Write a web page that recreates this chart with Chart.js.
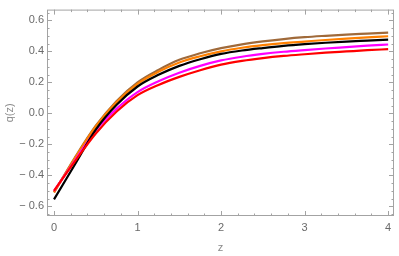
<!DOCTYPE html>
<html lang="en">
<head>
    <meta charset="UTF-8">
    <title>q(z)</title>
    <script src="https://cdn.jsdelivr.net/npm/chart.js"></script>
    <style>
        html, body { margin: 0; padding: 0; background: #fff; }
        #wrap { width: 399px; height: 256px; }
    </style>
</head>
<body>
    <div id="wrap"><canvas id="qChart" width="399" height="256"></canvas></div>

    <script>
        // values
        const zValues  = [0, 0.25, 0.5, 0.75, 1, 1.25, 1.5, 1.75, 2, 2.25, 2.5, 2.75, 3, 3.25, 3.5, 3.75, 4];
        const qBrown   = [-0.51, -0.285, -0.08, 0.08, 0.20, 0.28, 0.345, 0.387, 0.42, 0.445, 0.464, 0.479, 0.491, 0.50, 0.508, 0.514, 0.52];
        const qOrange  = [-0.51, -0.29, -0.085, 0.072, 0.19, 0.268, 0.328, 0.368, 0.40, 0.423, 0.44, 0.453, 0.463, 0.473, 0.482, 0.49, 0.497];
        const qBlack   = [-0.555, -0.33, -0.105, 0.055, 0.173, 0.248, 0.306, 0.349, 0.383, 0.405, 0.421, 0.435, 0.446, 0.455, 0.463, 0.469, 0.475];
        const qMagenta = [-0.5, -0.305, -0.11, 0.03, 0.137, 0.207, 0.262, 0.306, 0.341, 0.365, 0.383, 0.397, 0.408, 0.418, 0.427, 0.436, 0.444];
        const qRed     = [-0.5, -0.31, -0.13, 0.012, 0.117, 0.183, 0.235, 0.278, 0.314, 0.338, 0.356, 0.37, 0.381, 0.391, 0.399, 0.407, 0.414];

        const xTicks = [0, 1, 2, 3, 4];
        const yTicks = [-0.6, -0.4, -0.2, 0.0, 0.2, 0.4, 0.6];

        const toPoints = arr => arr.map((q, i) => ({ x: zValues[i], y: q }));

        function line(values, color) {
            return {
                data: toPoints(values),
                borderColor: color,
                borderWidth: 2.2,
                pointRadius: 0,
                fill: false,
                cubicInterpolationMode: 'monotone'
            };
        }

        const frameColor = '#a3a3a3';
        const labelColor = '#6a6a6a';

        // mathematica-style frame with inward ticks on all four sides
        const framePlugin = {
            id: 'frame',
            afterDatasetsDraw(chart) {
                const { ctx, chartArea: a, scales } = chart;
                const xs = scales.x, ys = scales.y;
                ctx.save();
                ctx.strokeStyle = frameColor;
                ctx.lineWidth = 1;
                ctx.strokeRect(a.left + 0.5, a.top + 0.5, a.right - a.left - 1, a.bottom - a.top - 1);

                for (let i = 0; i <= 20; i++) {
                    const v = i * 0.2;
                    const len = (i % 5 === 0) ? 5 : 2.5;
                    const px = Math.round(xs.getPixelForValue(v)) + 0.5;
                    ctx.beginPath();
                    ctx.moveTo(px, a.bottom); ctx.lineTo(px, a.bottom - len);
                    ctx.moveTo(px, a.top); ctx.lineTo(px, a.top + len);
                    ctx.stroke();
                }
                for (let i = -13; i <= 13; i++) {
                    const v = i * 0.05;
                    const len = (i % 4 === 0) ? 5 : 2.5;
                    const py = Math.round(ys.getPixelForValue(v)) + 0.5;
                    if (py < a.top || py > a.bottom) continue;
                    ctx.beginPath();
                    ctx.moveTo(a.left, py); ctx.lineTo(a.left + len, py);
                    ctx.moveTo(a.right, py); ctx.lineTo(a.right - len, py);
                    ctx.stroke();
                }
                ctx.restore();
            }
        };

        const fmt = v => {
            const s = Math.abs(v).toFixed(1);
            return v < -1e-9 ? '\u2212 ' + s : s;
        };

        new Chart(document.getElementById('qChart'), {
            type: 'line',
            data: {
                datasets: [
                    line(qRed, '#ff0000'),
                    line(qBlack, '#000000'),
                    line(qMagenta, '#ff00ff'),
                    line(qOrange, '#ff8000'),
                    line(qBrown, '#a06a3a')
                ]
            },
            options: {
                responsive: false,
                animation: false,
                layout: { padding: { top: 3, right: 5, left: 0, bottom: 0 } },
                plugins: { legend: { display: false }, tooltip: { enabled: false } },
                scales: {
                    x: {
                        type: 'linear',
                        min: -0.084,
                        max: 4.07,
                        afterBuildTicks: s => { s.ticks = xTicks.map(v => ({ value: v })); },
                        afterFit: s => { s.height = 40; },
                        grid: { display: false, drawTicks: false },
                        border: { display: false },
                        ticks: {
                            color: labelColor,
                            font: { family: 'Liberation Sans, Arial', size: 11 },
                            padding: 5,
                            maxRotation: 0,
                            callback: v => String(v)
                        },
                        title: {
                            display: true,
                            text: 'z',
                            color: '#8a8a8a',
                            font: { family: 'Liberation Sans, Arial', size: 11 },
                            padding: { top: 0, bottom: 1 }
                        }
                    },
                    y: {
                        type: 'linear',
                        min: -0.6625,
                        max: 0.669,
                        afterBuildTicks: s => { s.ticks = yTicks.map(v => ({ value: v })); },
                        afterFit: s => { s.width = 47; },
                        grid: { display: false, drawTicks: false },
                        border: { display: false },
                        ticks: {
                            color: labelColor,
                            font: { family: 'Liberation Sans, Arial', size: 11 },
                            padding: 3,
                            callback: v => fmt(v)
                        },
                        title: {
                            display: true,
                            text: 'q(z)',
                            color: '#8a8a8a',
                            font: { family: 'Liberation Sans, Arial', size: 11 },
                            padding: { top: 3, bottom: 0 }
                        }
                    }
                }
            },
            plugins: [framePlugin]
        });
    </script>
</body>
</html>
